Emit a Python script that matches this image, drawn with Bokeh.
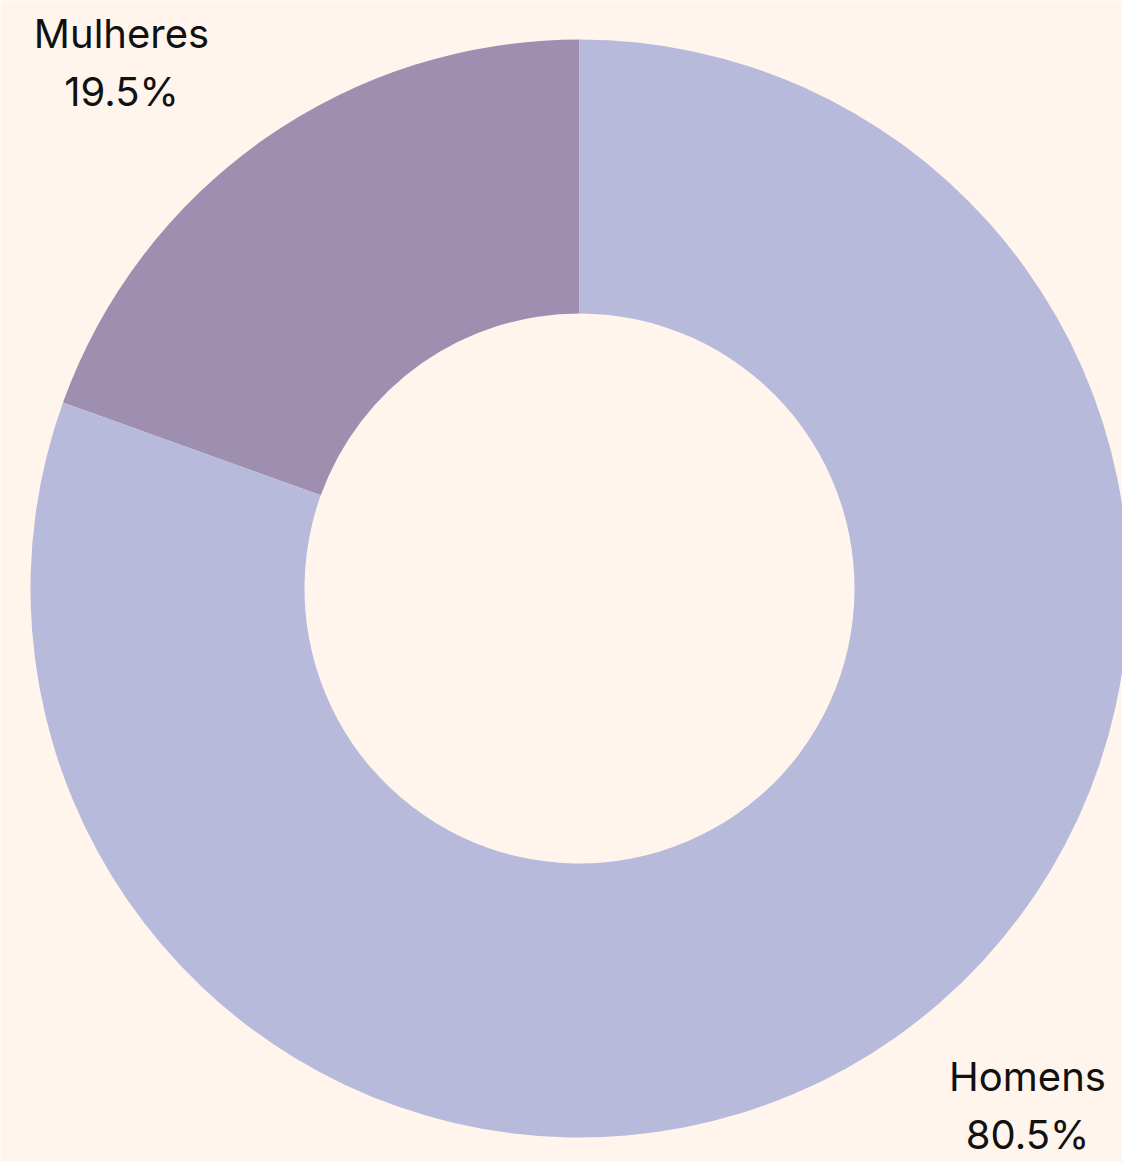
import math
from bokeh.plotting import figure
from bokeh.models import Range1d, ColumnDataSource
from bokeh.core.properties import value
from bokeh.embed import file_html
from bokeh.resources import INLINE

categories = ["Mulheres", "Homens"]
shares = [19.5, 80.5]
colors = ["#9E8FB0", "#B8BADB"]

W, H = 1122, 1162
BG = "#FFF5EC"
cx, cy = 579, H - 588
r_out, r_in = 549, 275

starts, ends = [], []
a = math.pi / 2
for s in shares:
    starts.append(a)
    a += s / 100 * 2 * math.pi
    ends.append(a)

p = figure(width=W, height=H, output_backend="svg", toolbar_location=None,
           x_range=Range1d(0, W), y_range=Range1d(0, H), min_border=0)
p.axis.visible = False
p.grid.visible = False
p.outline_line_color = None
p.background_fill_color = BG
p.border_fill_color = BG

src = ColumnDataSource(dict(start=starts, end=ends, color=colors))
p.annular_wedge(x=cx, y=cy, inner_radius=r_in, outer_radius=r_out,
                start_angle="start", end_angle="end", fill_color="color",
                line_color=None, source=src)

# labels
label_pos = [(121, H - 33), (1027, H - 1076)]
lx, ly1, ly2, t1, t2 = [], [], [], [], []
for (x, y), c, s in zip(label_pos, categories, shares):
    lx.append(x)
    ly1.append(y)
    ly2.append(y - 58)
    t1.append(c)
    t2.append(f"{s}%")
p.text(x=lx + lx, y=ly1 + ly2, text=t1 + t2, text_align="center",
       text_baseline="alphabetic", text_font=value("Inter"),
       text_font_size="40px", text_color="#111111")

open("out.html", "w").write(file_html(p, INLINE))
